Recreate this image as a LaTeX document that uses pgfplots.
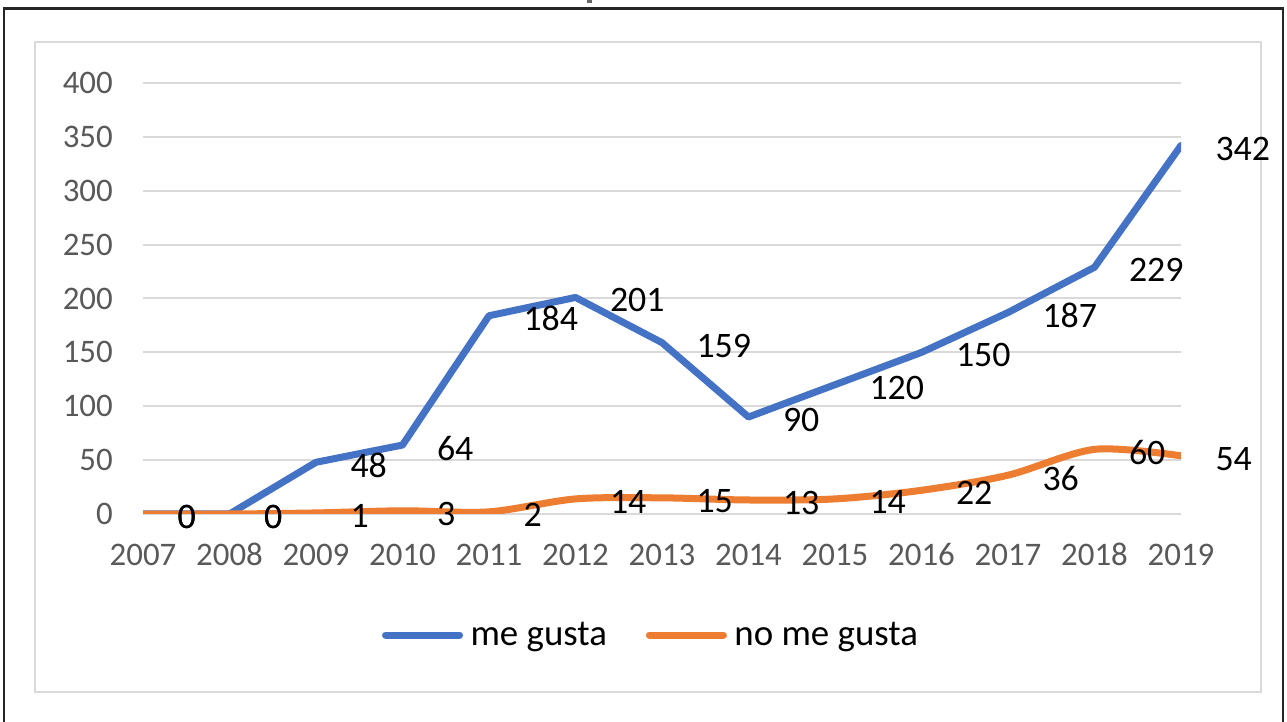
\documentclass[border=0pt]{standalone}
\usepackage{pgfplots}
\pgfplotsset{compat=1.18}
\usepackage{fontspec}
\setmainfont{Carlito}
\definecolor{sblue}{HTML}{4472C4}
\definecolor{sorange}{HTML}{ED7D31}
\definecolor{gridc}{HTML}{D9D9D9}
\definecolor{ticktext}{HTML}{595959}

\begin{document}
\begin{tikzpicture}
\useasboundingbox (0,0) rectangle (1287bp,722bp);
\clip (0,0) rectangle (1287bp,722bp);
\fill[white] (0,0) rectangle (1287bp,722bp);
\fill[black!60] (587bp,719bp) rectangle (592bp,722bp);
\draw[line width=2.5bp, black!85] (4bp,-20bp) rectangle (1283bp,713.5bp);
\draw[line width=2.5bp, gridc] (35bp,30bp) rectangle (1261bp,680bp);
\begin{axis}[
  at={(143bp,208bp)}, anchor=south west,
  scale only axis, width=1038bp, height=431bp,
  xmin=2007, xmax=2019, ymin=0, ymax=400,
  axis line style={draw=none},
  major tick length=0pt,
  /pgf/number format/assume math mode=true,
  xtick={2007,2008,2009,2010,2011,2012,2013,2014,2015,2016,2017,2018,2019},
  xticklabels={2007,2008,2009,2010,2011,2012,2013,2014,2015,2016,2017,2018,2019},
  ytick={0,50,100,150,200,250,300,350,400},
  yticklabels={0,50,100,150,200,250,300,350,400},
  ymajorgrids, grid style={gridc, line width=2bp},
  tick label style={font=\fontsize{33}{40}\selectfont, text=ticktext, inner sep=0pt},
  x tick label style={anchor=north, text height=21bp, text depth=0bp},
  xticklabel shift=30bp, yticklabel shift=30bp,
  nodes near coords={\pgfmathprintnumber[assume math mode=true]{\pgfplotspointmeta}},
  every node near coord/.append style={font=\fontsize{36}{43}\selectfont, text=black, anchor=west, inner sep=0pt, xshift=31bp, yshift=-3bp},
  legend columns=2,
  legend style={at={(0.5,0)}, anchor=center, yshift=-121bp, xshift=-12bp, draw=none, fill=none,
    font=\fontsize{37}{44}\selectfont, nodes={inner sep=0pt},
    /tikz/every even column/.append style={column sep=39bp}},
  legend image code/.code={\draw[#1, line width=7bp, line cap=round] (3.5bp,0bp) -- (77.5bp,0bp);},
]
\addplot[sblue, line width=7bp, line join=round, line cap=round] coordinates {
(2007,0) (2008,0) (2009,48) (2010,64) (2011,184) (2012,201) (2013,159) (2014,90) (2015,120) (2016,150) (2017,187) (2018,229) (2019,342)};
\addlegendentry{\hspace*{7.5bp}me gusta}
\addplot[sorange, line width=7bp, line join=round, line cap=round, smooth, tension=0.5] coordinates {
(2007,0) (2008,0) (2009,1) (2010,3) (2011,2) (2012,14) (2013,15) (2014,13) (2015,14) (2016,22) (2017,36) (2018,60) (2019,54)};
\addlegendentry{\hspace*{7.5bp}no me gusta}
\end{axis}
\end{tikzpicture}
\end{document}
